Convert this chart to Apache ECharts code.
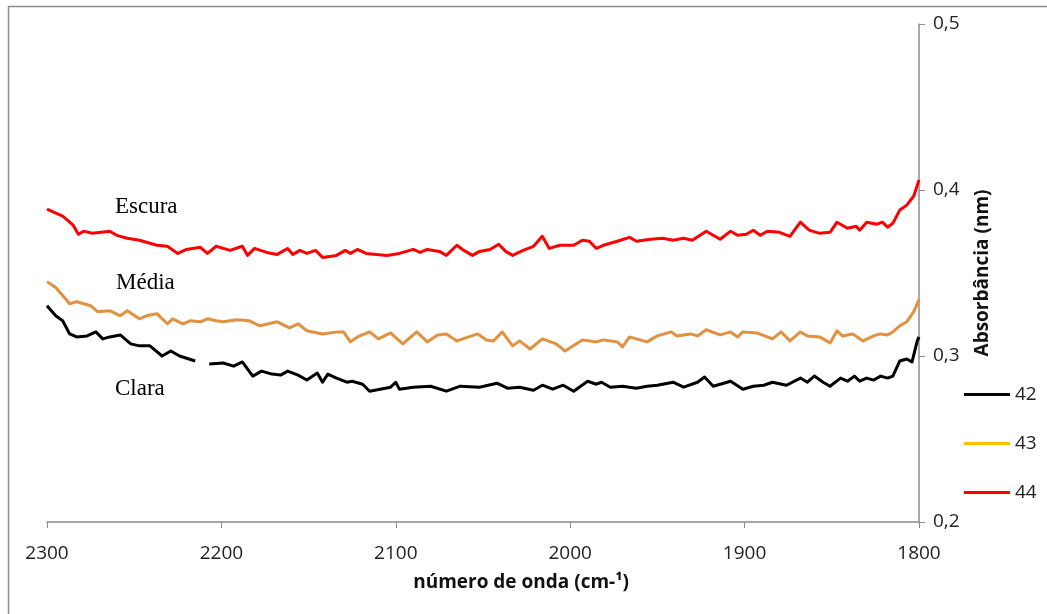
<!DOCTYPE html>
<html>
<head>
<meta charset="utf-8">
<script src="https://cdn.jsdelivr.net/npm/echarts@6/dist/echarts.min.js"></script>
<style>
  html, body { margin: 0; padding: 0; background: #fff; }
  #chart { width: 1047px; height: 614px; }
</style>
</head>
<body>
<div id="chart"></div>
<script>
// Wavenumber ticks and absorbance ticks
const xTicks = [2300, 2200, 2100, 2000, 1900, 1800];
const yTicks = [0.2, 0.3, 0.4, 0.5];

// Sample names (legend)
const seriesNames = ['42', '43', '44'];

// Spectrum 42 – "Clara": [wavenumber cm-1, absorbance]; null breaks the trace
const clara42 = [
  [2300,0.3303],[2295,0.3242],[2291,0.3212],[2287,0.3133],[2283,0.3115],[2277,0.3121],
  [2272,0.3145],[2268,0.3103],[2264,0.3115],[2258,0.3127],[2252,0.3073],[2247,0.3061],
  [2241,0.3061],[2234,0.3000],[2229,0.3030],[2224,0.3000],[2215,0.2970],[2212,null],
  [2207,0.2952],[2199,0.2958],[2193,0.2939],[2188,0.2964],[2182,0.2879],[2177,0.2909],
  [2171,0.2891],[2166,0.2885],[2162,0.2909],[2156,0.2885],[2151,0.2855],[2145,0.2897],
  [2142,0.2842],[2139,0.2891],[2134,0.2867],[2128,0.2842],[2125,0.2848],[2119,0.2830],
  [2115,0.2788],[2109,0.2800],[2103,0.2812],[2100,0.2842],[2098,0.2800],[2090,0.2812],
  [2080,0.2818],[2071,0.2788],[2063,0.2818],[2052,0.2812],[2042,0.2836],[2036,0.2806],
  [2029,0.2812],[2021,0.2794],[2016,0.2824],[2010,0.2800],[2004,0.2824],[1998,0.2788],
  [1990,0.2848],[1985,0.2830],[1982,0.2842],[1977,0.2812],[1970,0.2818],[1962,0.2806],
  [1956,0.2818],[1950,0.2824],[1941,0.2842],[1935,0.2812],[1927,0.2842],[1923,0.2873],
  [1918,0.2818],[1910,0.2842],[1908,0.2848],[1901,0.2800],[1895,0.2818],[1889,0.2824],
  [1884,0.2842],[1876,0.2824],[1868,0.2867],[1864,0.2842],[1860,0.2879],[1855,0.2842],
  [1851,0.2818],[1845,0.2867],[1841,0.2848],[1837,0.2879],[1834,0.2848],[1830,0.2867],
  [1826,0.2855],[1822,0.2879],[1818,0.2867],[1815,0.2879],[1811,0.2970],[1807,0.2982],
  [1804,0.2964],[1801,0.3091],[1800,0.3115]
];

// Spectrum 43 – "Média"
const media43 = [
  [2300,0.3448],[2295,0.3412],[2291,0.3364],[2287,0.3315],[2283,0.3327],[2275,0.3303],
  [2271,0.3267],[2264,0.3273],[2258,0.3242],[2254,0.3273],[2247,0.3224],[2243,0.3242],
  [2237,0.3255],[2231,0.3194],[2228,0.3224],[2222,0.3194],[2218,0.3212],[2212,0.3206],
  [2208,0.3224],[2203,0.3212],[2199,0.3206],[2191,0.3218],[2184,0.3212],[2178,0.3182],
  [2168,0.3206],[2161,0.3170],[2156,0.3194],[2151,0.3152],[2142,0.3133],[2134,0.3145],
  [2130,0.3145],[2126,0.3085],[2122,0.3115],[2115,0.3145],[2110,0.3103],[2103,0.3139],
  [2102,0.3127],[2096,0.3073],[2088,0.3145],[2082,0.3085],[2076,0.3127],[2071,0.3133],
  [2065,0.3091],[2053,0.3133],[2048,0.3097],[2044,0.3091],[2039,0.3145],[2033,0.3061],
  [2029,0.3091],[2023,0.3042],[2016,0.3103],[2008,0.3073],[2003,0.3030],[1993,0.3097],
  [1985,0.3085],[1981,0.3097],[1973,0.3085],[1970,0.3055],[1966,0.3115],[1956,0.3085],
  [1950,0.3121],[1942,0.3145],[1939,0.3121],[1931,0.3133],[1927,0.3121],[1922,0.3158],
  [1914,0.3127],[1908,0.3145],[1904,0.3115],[1901,0.3145],[1893,0.3139],[1887,0.3115],
  [1884,0.3103],[1879,0.3145],[1874,0.3091],[1868,0.3145],[1864,0.3121],[1857,0.3115],
  [1851,0.3079],[1847,0.3152],[1844,0.3121],[1838,0.3133],[1832,0.3091],[1826,0.3121],
  [1822,0.3133],[1818,0.3127],[1815,0.3145],[1811,0.3182],[1807,0.3206],[1803,0.3267],
  [1800,0.3339]
];

// Spectrum 44 – "Escura"
const escura44 = [
  [2300,0.3885],[2291,0.3842],[2285,0.3788],[2282,0.3733],[2279,0.3752],[2274,0.3739],
  [2264,0.3752],[2260,0.3727],[2254,0.3709],[2247,0.3697],[2237,0.3667],[2231,0.3661],
  [2225,0.3618],[2220,0.3642],[2212,0.3655],[2208,0.3618],[2203,0.3661],[2195,0.3636],
  [2188,0.3661],[2185,0.3606],[2181,0.3648],[2174,0.3624],[2168,0.3612],[2162,0.3648],
  [2159,0.3612],[2155,0.3636],[2151,0.3618],[2146,0.3636],[2142,0.3594],[2134,0.3606],
  [2129,0.3636],[2126,0.3618],[2122,0.3642],[2117,0.3618],[2111,0.3612],[2105,0.3606],
  [2098,0.3618],[2090,0.3642],[2086,0.3624],[2082,0.3642],[2075,0.3630],[2071,0.3606],
  [2065,0.3667],[2061,0.3636],[2056,0.3606],[2052,0.3630],[2046,0.3642],[2041,0.3673],
  [2037,0.3630],[2033,0.3606],[2027,0.3636],[2021,0.3661],[2016,0.3721],[2012,0.3648],
  [2006,0.3667],[1998,0.3667],[1993,0.3697],[1989,0.3691],[1985,0.3648],[1981,0.3667],
  [1973,0.3691],[1966,0.3715],[1962,0.3691],[1954,0.3703],[1947,0.3709],[1941,0.3697],
  [1935,0.3709],[1930,0.3697],[1922,0.3752],[1918,0.3727],[1914,0.3703],[1908,0.3752],
  [1904,0.3727],[1899,0.3733],[1895,0.3758],[1891,0.3727],[1887,0.3752],[1880,0.3745],
  [1874,0.3721],[1868,0.3806],[1863,0.3758],[1857,0.3739],[1851,0.3745],[1847,0.3806],
  [1841,0.3770],[1836,0.3782],[1834,0.3758],[1830,0.3806],[1824,0.3794],[1821,0.3806],
  [1818,0.3776],[1815,0.3800],[1811,0.3879],[1807,0.3909],[1803,0.3964],[1800,0.4061]
];

// Curve labels placed next to each trace
const curveLabels = ['Escura', 'Média', 'Clara'];

const lineColors = ['#000000', '#E1913F', '#FF0000'];
const legendColors = ['#000000', '#FFC000', '#FF0000'];
const axisFont = "'Open Sans', 'Noto Sans', sans-serif";
const serifFont = "23px 'Liberation Serif', 'DejaVu Serif', serif";

const chart = echarts.init(document.getElementById('chart'), null, { renderer: 'canvas' });

const seriesData = [clara42, media43, escura44];

chart.setOption({
  animation: false,
  backgroundColor: '#ffffff',
  grid: { left: 47, right: 128, top: 24, bottom: 92 },
  legend: {
    orient: 'vertical',
    left: 959,
    top: 377,
    icon: 'rect',
    itemWidth: 46,
    itemHeight: 3,
    itemGap: 24,
    textStyle: { fontFamily: axisFont, fontSize: 19, color: '#222', lineHeight: 25 },
    data: seriesNames.map((n, i) => ({
      name: n,
      itemStyle: { color: legendColors[i] }
    }))
  },
  xAxis: {
    type: 'value',
    inverse: true,
    min: xTicks[xTicks.length - 1],
    max: xTicks[0],
    interval: 100,
    name: 'número de onda (cm-¹)',
    nameLocation: 'middle',
    nameGap: 51,
    nameTextStyle: {
      fontFamily: axisFont, fontSize: 19, fontWeight: 'bold', color: '#111',
      padding: [0, 0, 0, 76]
    },
    axisLine: { show: true, lineStyle: { color: '#8c8c8c', width: 1.5 } },
    axisTick: { show: true, length: 6, lineStyle: { color: '#8c8c8c' } },
    axisLabel: {
      fontFamily: axisFont, fontSize: 19, color: '#222', margin: 22,
      formatter: v => String(v)
    },
    splitLine: { show: false }
  },
  yAxis: {
    type: 'value',
    position: 'right',
    min: yTicks[0],
    max: yTicks[yTicks.length - 1],
    interval: 0.1,
    name: 'Absorbância (nm)',
    nameLocation: 'middle',
    nameRotate: 90,
    nameGap: 54,
    nameTextStyle: { fontFamily: axisFont, fontSize: 19, fontWeight: 'bold', color: '#111' },
    axisLine: { show: true, lineStyle: { color: '#8c8c8c', width: 1.5 } },
    axisTick: { show: true, length: 6, lineStyle: { color: '#8c8c8c' } },
    axisLabel: {
      fontFamily: axisFont, fontSize: 19, color: '#222', margin: 14,
      formatter: v => v.toFixed(1).replace('.', ',')
    },
    splitLine: { show: false }
  },
  series: seriesNames.map((n, i) => ({
    name: n,
    type: 'line',
    data: seriesData[i],
    symbol: 'none',
    connectNulls: false,
    lineStyle: { color: lineColors[i], width: 3, join: 'round' },
    itemStyle: { color: lineColors[i] },
    z: 3 - i
  })),
  graphic: [
    {
      type: 'rect',
      shape: { x: 8.5, y: 6.5, width: 1100, height: 700 },
      style: { fill: 'none', stroke: '#8c8c8c', lineWidth: 1.5 },
      silent: true
    },
    {
      type: 'text', x: 115, y: 195,
      style: { text: curveLabels[0], font: serifFont, fill: '#000' }
    },
    {
      type: 'text', x: 116, y: 271,
      style: { text: curveLabels[1], font: serifFont, fill: '#000' }
    },
    {
      type: 'text', x: 115, y: 377,
      style: { text: curveLabels[2], font: serifFont, fill: '#000' }
    }
  ]
});
</script>
</body>
</html>
